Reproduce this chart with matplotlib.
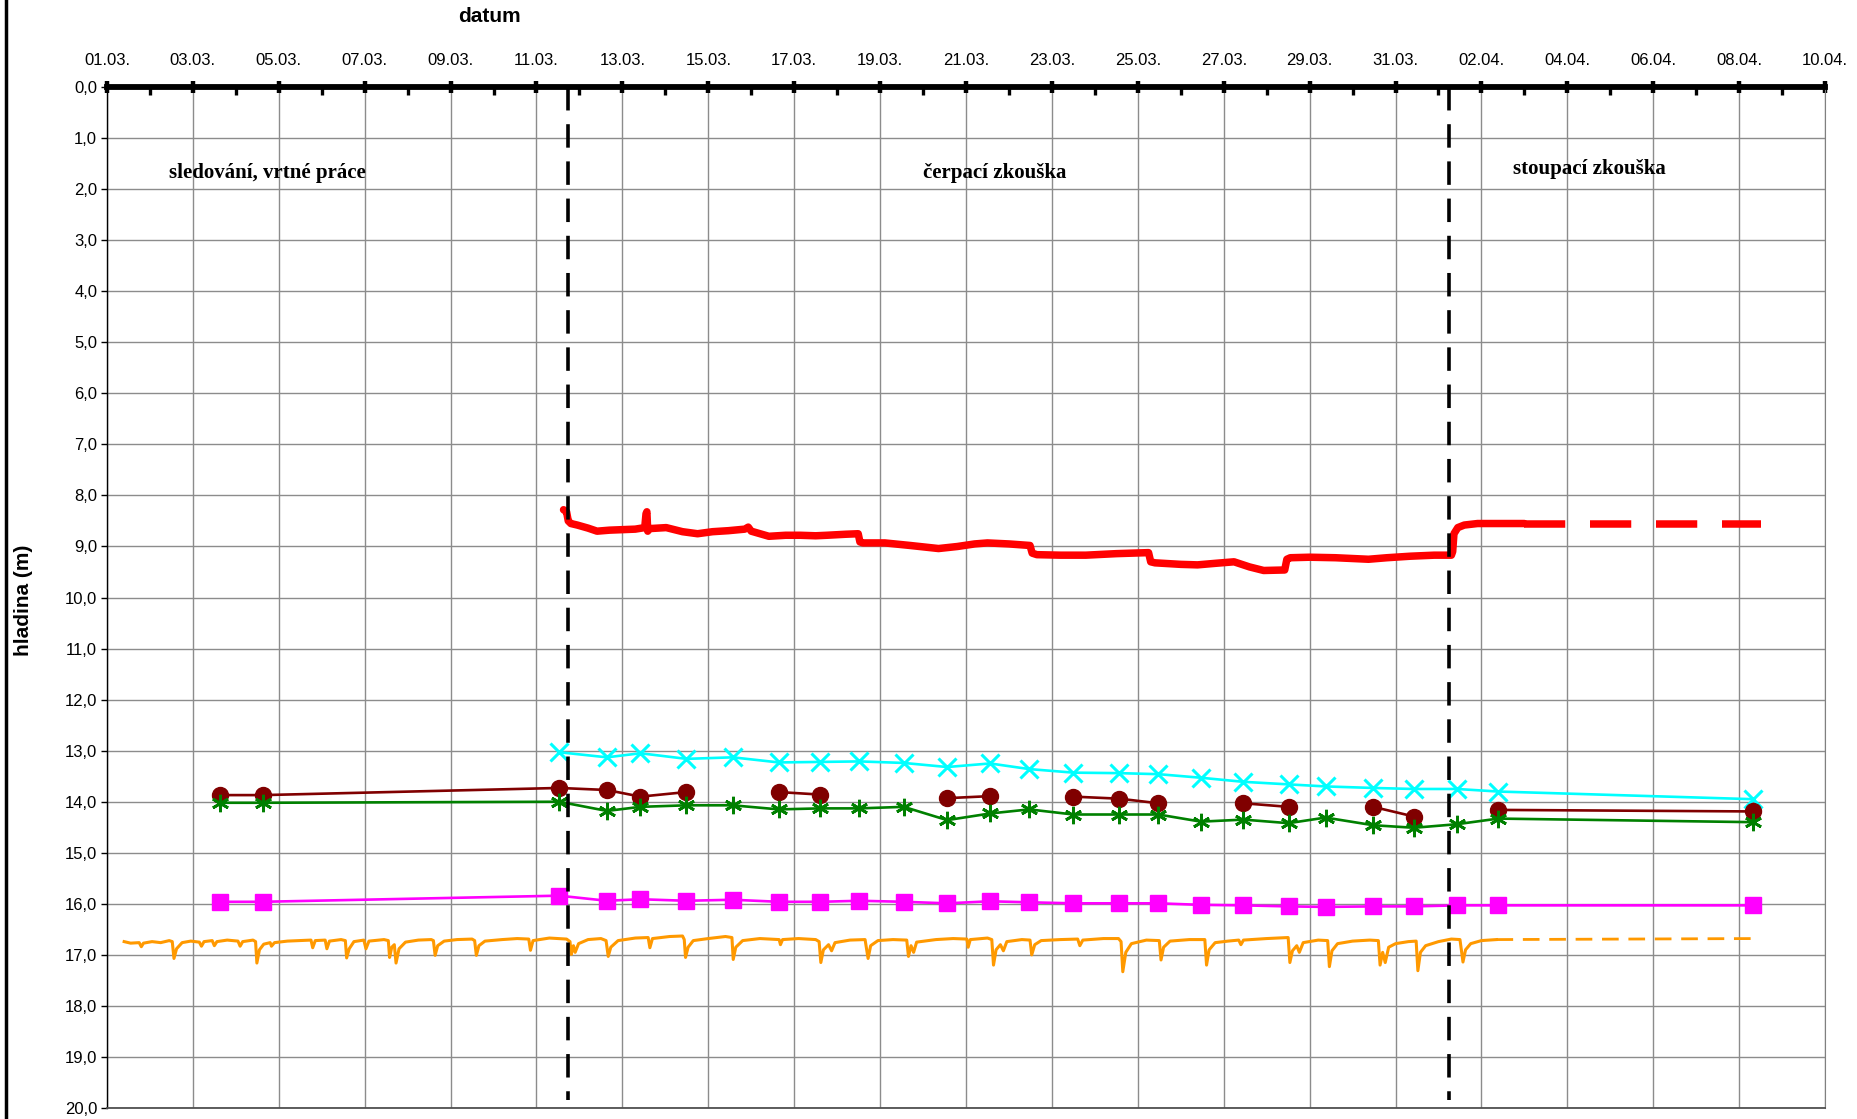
import numpy as np
import matplotlib
matplotlib.use("Agg")
import matplotlib.pyplot as plt
from matplotlib.lines import Line2D
from matplotlib.ticker import MultipleLocator, FixedLocator, FuncFormatter

plt.rcParams['font.family'] = ['Liberation Sans', 'DejaVu Sans']

nan = np.nan

#date axis (days from 01.03.) -----------------------------------------
tick_labels = ["01.03.", "03.03.", "05.03.", "07.03.", "09.03.", "11.03.", "13.03.",
               "15.03.", "17.03.", "19.03.", "21.03.", "23.03.", "25.03.", "27.03.",
               "29.03.", "31.03.", "02.04.", "04.04.", "06.04.", "08.04.", "10.04."]

#manual measurements in the observation wells ---------------------------
den = [2.64, 3.63, 10.53, 11.64, 12.42, 13.49, 14.57, 15.64, 16.61, 17.52, 18.55, 19.56, 20.56,
       21.47, 22.50, 23.57, 24.48, 25.47, 26.46, 27.51, 28.37, 29.48, 30.43, 31.43, 32.39, 38.32]
hl_cyan = [nan, nan, 13.03, 13.13, 13.05, 13.16, 13.13, 13.23, 13.22, 13.21, 13.24, 13.32, 13.25,
           13.36, 13.43, 13.44, 13.46, 13.53, 13.61, 13.66, 13.70, 13.73, 13.75, 13.75, 13.80, 13.95]
hl_brown = [13.87, 13.87, 13.73, 13.77, 13.90, 13.81, nan, 13.81, 13.86, nan, nan, 13.93, 13.89,
            nan, 13.90, 13.94, 14.03, nan, 14.03, 14.10, nan, 14.10, 14.29, nan, 14.16, 14.19]
hl_green = [14.02, 14.02, 14.00, 14.18, 14.10, 14.07, 14.07, 14.15, 14.13, 14.13, 14.10, 14.36, 14.23,
            14.15, 14.25, 14.25, 14.25, 14.39, 14.35, 14.42, 14.31, 14.46, 14.51, 14.44, 14.33, 14.40]
hl_magenta = [15.96, 15.96, 15.84, 15.94, 15.91, 15.94, 15.92, 15.96, 15.96, 15.94, 15.96, 15.99, 15.95,
              15.97, 15.99, 15.99, 15.99, 16.02, 16.03, 16.05, 16.06, 16.05, 16.05, 16.03, 16.03, 16.03]

#pumped well - logger ---------------------------------------------------
red_den = [10.63, 10.70, 10.74, 10.80, 10.95, 11.20, 11.41, 11.70, 12.00, 12.30, 12.52, 12.55, 12.57,
           12.59, 12.62, 13.02, 13.40, 13.75, 14.10, 14.47, 14.85, 14.93, 15.00, 15.41, 15.80, 16.14,
           16.50, 16.76, 17.20, 17.49, 17.53, 17.60, 18.11, 18.70, 19.36, 19.80, 20.20, 20.50, 21.00,
           21.49, 21.54, 21.65, 22.20, 22.79, 23.50, 24.25, 24.30, 24.40, 25.00, 25.39, 25.80, 26.24,
           26.60, 26.93, 27.42, 27.47, 27.55, 28.00, 28.60, 29.37, 29.80, 30.35, 30.90, 31.30, 31.33,
           31.36, 31.45, 31.60, 31.91, 32.40, 33.00]
red_hl = [8.28, 8.32, 8.50, 8.55, 8.58, 8.64, 8.70, 8.68, 8.67, 8.66, 8.63, 8.36, 8.32,
          8.70, 8.65, 8.63, 8.71, 8.75, 8.71, 8.69, 8.66, 8.62, 8.70, 8.80, 8.78, 8.78,
          8.79, 8.78, 8.76, 8.75, 8.91, 8.93, 8.93, 8.98, 9.04, 9.00, 8.95, 8.93, 8.95,
          8.98, 9.13, 9.16, 9.17, 9.17, 9.14, 9.12, 9.30, 9.32, 9.35, 9.36, 9.33, 9.30,
          9.40, 9.47, 9.46, 9.25, 9.22, 9.21, 9.22, 9.25, 9.22, 9.19, 9.17, 9.17, 9.10,
          8.75, 8.63, 8.58, 8.55, 8.55, 8.55]
red_den_end = [33.00, 38.50]
red_hl_end = [8.55, 8.55]

#nearby well - logger ---------------------------------------------------
ora_den = [0.40, 0.55, 0.75, 0.80, 0.85, 1.05, 1.25, 1.45, 1.52, 1.56, 1.62, 1.75, 1.95, 2.15, 2.20,
           2.26, 2.45, 2.50, 2.56, 2.80, 3.05, 3.10, 3.16, 3.40, 3.46, 3.49, 3.55, 3.65, 3.80, 3.83,
           3.90, 4.20, 4.50, 4.75, 4.79, 4.85, 5.08, 5.12, 5.18, 5.45, 5.55, 5.58, 5.64, 5.75, 5.98,
           6.03, 6.10, 6.45, 6.55, 6.58, 6.63, 6.69, 6.73, 6.80, 6.95, 7.25, 7.55, 7.60, 7.64, 7.70,
           7.85, 8.15, 8.50, 8.56, 8.60, 8.66, 8.80, 9.20, 9.55, 9.82, 9.86, 9.92, 10.30, 10.70, 10.78,
           10.81, 10.86, 10.90, 10.98, 11.20, 11.50, 11.62, 11.67, 11.73, 11.90, 12.30, 12.60, 12.64,
           12.70, 13.10, 13.40, 13.44, 13.47, 13.53, 13.65, 14.00, 14.40, 14.55, 14.58, 14.64, 14.80,
           15.20, 15.65, 15.68, 15.73, 16.10, 16.50, 16.58, 16.62, 16.68, 16.80, 16.87, 16.95, 17.30,
           17.65, 17.72, 17.78, 17.95, 18.30, 18.62, 18.66, 18.72, 18.78, 18.85, 19.30, 19.70, 20.02,
           20.05, 20.10, 20.50, 20.60, 20.64, 20.70, 20.80, 20.87, 20.95, 21.30, 21.49, 21.53, 21.60,
           21.75, 22.20, 22.60, 22.65, 22.72, 23.20, 23.55, 23.61, 23.65, 23.72, 23.85, 24.20, 24.50,
           24.54, 24.60, 24.75, 25.20, 25.56, 25.60, 25.66, 25.80, 26.10, 26.35, 26.40, 26.46, 27.00,
           27.50, 27.54, 27.60, 27.70, 27.76, 27.85, 28.20, 28.42, 28.46, 28.52, 28.65, 29.00, 29.40,
           29.60, 29.64, 29.70, 29.76, 29.84, 30.00, 30.30, 30.48, 30.52, 30.58, 30.70, 31.00, 31.30,
           31.50, 31.57, 31.63, 31.75, 32.00, 32.35]
ora_hl = [16.74, 16.77, 16.76, 16.84, 16.77, 16.74, 16.76, 16.72, 16.74, 17.07, 16.88, 16.76, 16.73, 16.75, 16.83,
          16.74, 16.72, 16.82, 16.74, 16.71, 16.73, 16.83, 16.74, 16.71, 16.74, 17.16, 16.90, 16.79, 16.76, 16.83,
          16.76, 16.73, 16.72, 16.71, 16.86, 16.72, 16.71, 16.88, 16.73, 16.70, 16.72, 17.06, 16.88, 16.74, 16.71,
          16.88, 16.73, 16.70, 16.72, 17.05, 16.85, 16.80, 17.16, 16.88, 16.75, 16.71, 16.70, 16.72, 17.01, 16.82,
          16.73, 16.70, 16.69, 16.72, 17.01, 16.82, 16.73, 16.70, 16.68, 16.69, 16.91, 16.72, 16.67, 16.69, 16.74,
          16.99, 16.82, 16.95, 16.78, 16.70, 16.68, 16.72, 17.03, 16.85, 16.72, 16.67, 16.66, 16.86,
          16.68, 16.64, 16.63, 16.70, 17.05, 16.85, 16.72, 16.68, 16.64, 16.66, 17.09, 16.85, 16.72,
          16.68, 16.70, 16.80, 16.70, 16.68, 16.70, 16.74, 17.15, 16.90, 16.80, 16.92, 16.76, 16.71,
          16.70, 17.07, 16.82, 16.72, 16.70, 16.71, 17.03, 16.82, 16.95, 16.75, 16.70, 16.68, 16.69,
          16.85, 16.70, 16.67, 16.70, 17.20, 16.90, 16.80, 16.92, 16.74, 16.70, 16.71, 17.00, 16.80,
          16.72, 16.70, 16.69, 16.82, 16.71, 16.68, 16.68, 16.74, 17.33, 16.95, 16.78, 16.71, 16.72,
          17.10, 16.85, 16.73, 16.70, 16.70, 17.20, 16.90, 16.76, 16.73, 16.71, 16.80, 16.71, 16.68,
          16.66, 17.15, 16.92, 16.82, 16.95, 16.76, 16.71, 16.72, 17.23, 16.92, 16.78, 16.73, 16.71,
          16.72, 17.20, 16.95, 17.15, 16.85, 16.78, 16.74, 16.73, 17.31, 16.95, 16.82, 16.74, 16.69,
          16.70, 17.14, 16.90, 16.78, 16.72, 16.70]
ora_den_end = [32.35, 38.36]
ora_hl_end = [16.70, 16.68]

#phase boundaries ----------------------------------------------------------
hranice = [10.74, 31.24]

#figure -------------------------------------------------------------------
fig = plt.figure(figsize=(18.57, 11.19), dpi=100)
ax = fig.add_axes([0.0576, 0.0098, 0.9252, 0.9124])

ax.plot(red_den, red_hl, color='#ff0000', lw=5.4, solid_capstyle='round', solid_joinstyle='round', zorder=4)
ax.plot(red_den_end, red_hl_end, color='#ff0000', lw=5.4, dashes=[5.5, 3.3], dash_capstyle='butt', zorder=4)

ax.plot(ora_den, ora_hl, color='#ff9900', lw=2.2, zorder=3)
ax.plot(ora_den_end, ora_hl_end, color='#ff9900', lw=2.0, dashes=[6, 3.5], zorder=3)

ax.plot(den, hl_cyan, color='#00ffff', lw=1.9, marker='x', ms=12.5, mew=2.2, zorder=5)
ax.plot(den, hl_brown, color='#800000', lw=1.9, marker='o', ms=11.5, zorder=5)
ax.plot(den, hl_green, color='#008000', lw=1.9, marker=(6, 2, 0), ms=12.5, mew=2.0, zorder=5)
ax.plot(den, hl_magenta, color='#ff00ff', lw=1.9, marker='s', ms=11, zorder=5)

for x in hranice:
    ax.plot([x, x], [0, 19.85], color='black', lw=2.6, dashes=[6.5, 3.8], zorder=6)

#axes ---------------------------------------------------------------------
ax.set_xlim(0, 40)
ax.set_ylim(20, 0)
ax.xaxis.tick_top()
ax.xaxis.set_major_locator(FixedLocator(np.arange(0, 41, 2)))
ax.xaxis.set_minor_locator(MultipleLocator(1))
ax.set_xticklabels(tick_labels, family=['Liberation Sans Narrow', 'Liberation Sans'], fontsize=12)
ax.yaxis.set_major_locator(MultipleLocator(1))
ax.yaxis.set_major_formatter(FuncFormatter(lambda v, p: ("%.1f" % v).replace('.', ',')))
ax.tick_params(axis='x', which='major', direction='inout', length=9, width=3.2, pad=9, color='black')
ax.tick_params(axis='x', which='minor', direction='in', length=5.5, width=2.4, color='black', top=True, bottom=False)
ax.tick_params(axis='y', which='major', direction='out', length=4, width=1, labelsize=12, pad=3)

ax.grid(True, which='major', color='#8c8c8c', lw=1.0)
ax.set_axisbelow(True)
ax.spines['top'].set_linewidth(4.2)
ax.spines['top'].set_zorder(7)
ax.spines['left'].set_linewidth(1.0)
ax.spines['right'].set_color('#808080')
ax.spines['bottom'].set_color('#505050')
ax.spines['bottom'].set_linewidth(1.3)

#phase labels -------------------------------------------------------------
serif = ['Liberation Serif', 'DejaVu Serif']
ax.text(3.74, 1.68, "sledování, vrtné práce", family=serif, weight='bold', fontsize=15, ha='center', va='center')
ax.text(20.66, 1.68, "čerpací zkouška", family=serif, weight='bold', fontsize=15, ha='center', va='center')
ax.text(34.51, 1.61, "stoupací zkouška", family=serif, weight='bold', fontsize=15, ha='center', va='center')

fig.text(0.2633, 0.9852, "datum", weight='bold', fontsize=15, ha='center', va='center')
fig.text(0.0128, 0.4634, "hladina (m)", weight='bold', fontsize=15, ha='center', va='center', rotation=90)

fig.add_artist(Line2D([0.0035, 0.0035], [0, 1], transform=fig.transFigure, color='black', lw=2.5))

plt.savefig("out.png", dpi=100)
